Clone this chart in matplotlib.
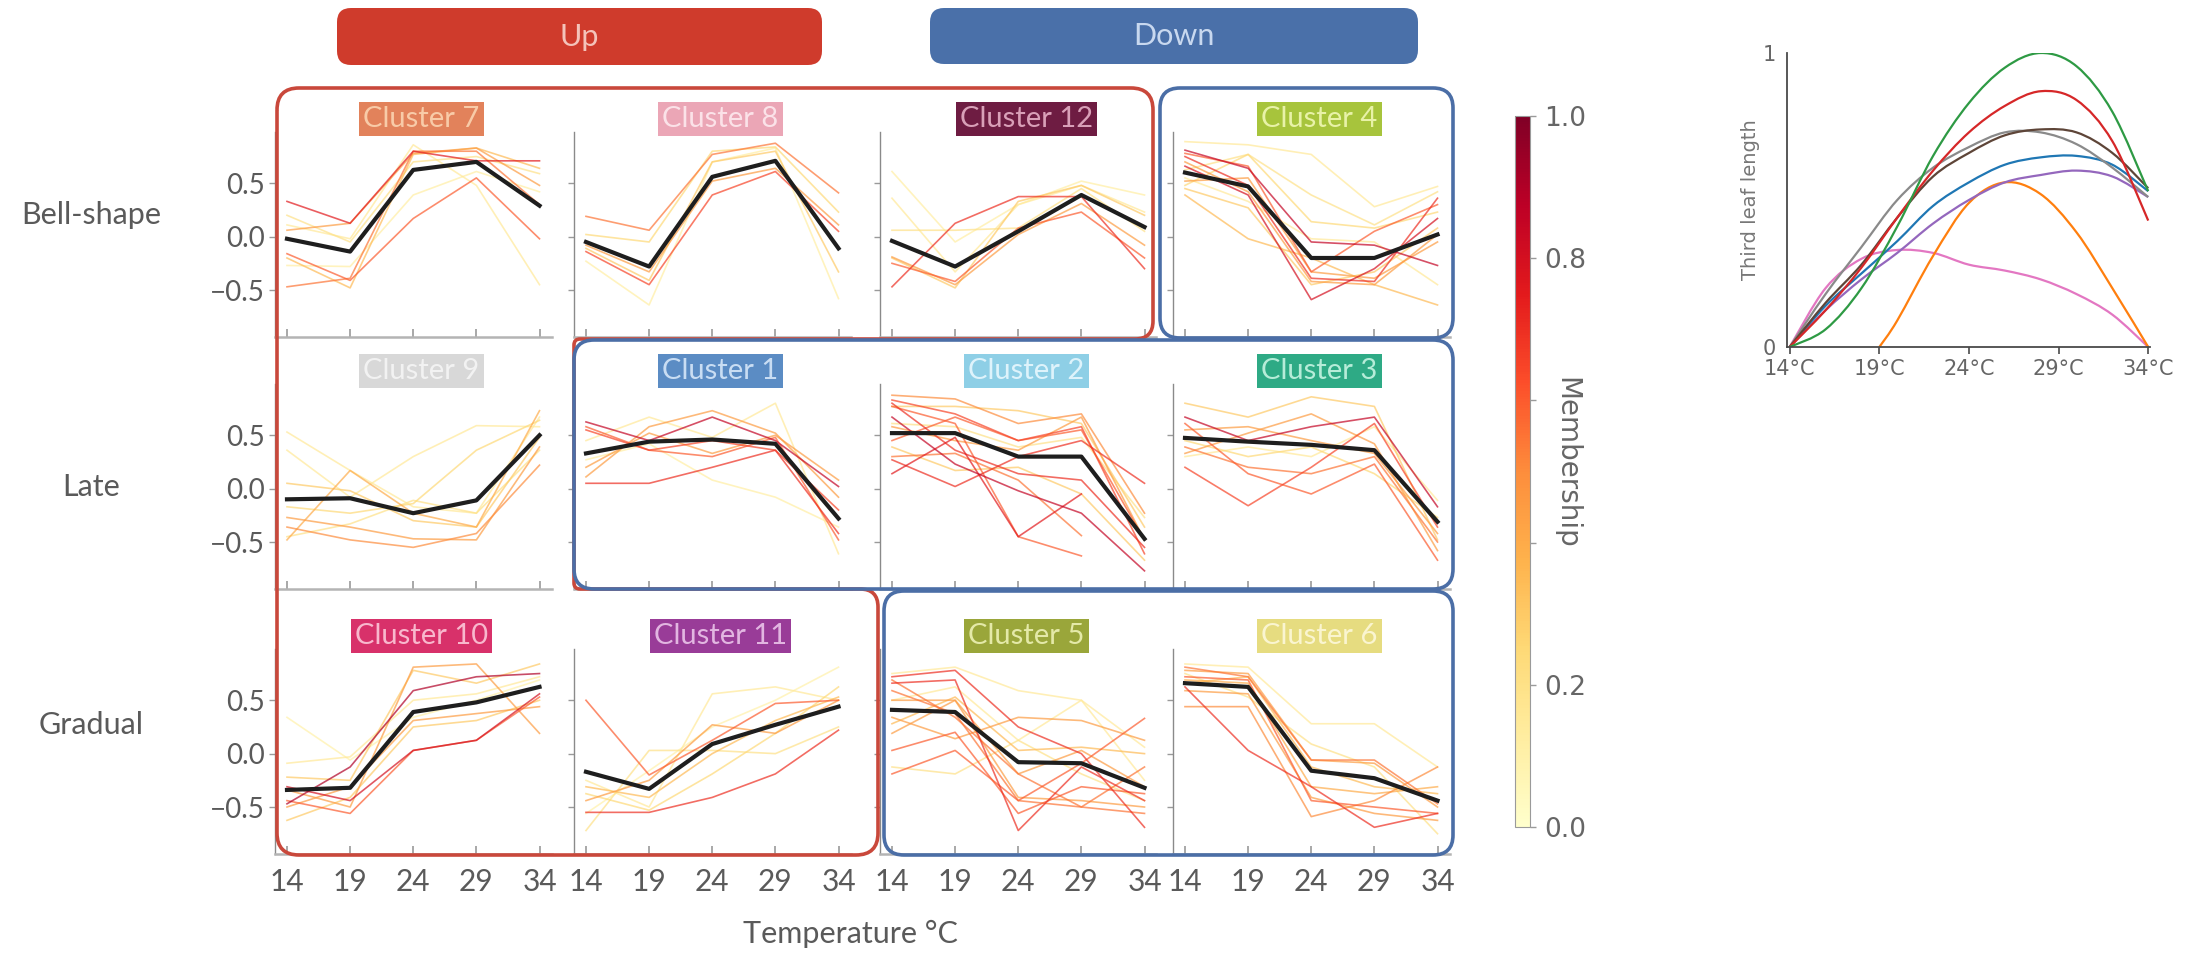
import numpy as np
import matplotlib
matplotlib.use("Agg")
import matplotlib.pyplot as plt
from matplotlib.path import Path
from matplotlib.patches import PathPatch, FancyBboxPatch
from matplotlib.colors import Normalize
from matplotlib.colorbar import ColorbarBase

plt.rcParams['font.family'] = ['Lato', 'DejaVu Sans']

# ---------------------------------------------------------------- data
temps = [14, 19, 24, 29, 34]
nan = float('nan')

c7_mean = [-0.02, -0.14, 0.625, 0.70, 0.29]
c7_members = [
    [0.33, 0.125, 0.80, 0.71, 0.71], [0.06, 0.125, 0.78, 0.83, 0.48],
    [-0.16, -0.41, 0.17, 0.55, -0.02], [-0.47, -0.39, 0.80, 0.80, 0.30],
    [0.11, -0.02, 0.86, 0.48, -0.45], [-0.27, -0.28, 0.39, 0.61, 0.42],
    [-0.20, -0.48, 0.77, 0.83, 0.64], [0.20, -0.05, 0.70, 0.75, 0.59]]
c7_membership = [0.75, 0.45, 0.6, 0.55, 0.15, 0.12, 0.35, 0.2]

c8_mean = [-0.05, -0.28, 0.56, 0.71, -0.11]
c8_members = [
    [0.19, 0.06, 0.77, 0.875, 0.41], [-0.14, -0.45, 0.39, 0.61, 0.05],
    [-0.11, -0.41, 0.70, 0.80, -0.33], [-0.23, -0.64, 0.70, 0.83, -0.58],
    [0.02, -0.05, 0.80, 0.84, 0.23], [-0.08, -0.33, 0.52, 0.64, 0.11]]
c8_membership = [0.55, 0.65, 0.3, 0.12, 0.25, 0.45]

c12_mean = [-0.04, -0.28, 0.05, 0.39, 0.09]
c12_members = [
    [-0.47, 0.125, 0.375, 0.375, -0.30], [0.61, -0.05, 0.30, 0.52, 0.39],
    [0.36, -0.33, 0.30, 0.48, 0.23], [-0.19, -0.45, 0.02, 0.31, -0.08],
    [-0.25, -0.42, 0.08, 0.23, -0.20], [0.06, 0.06, 0.08, 0.45, 0.05],
    [-0.20, -0.48, 0.33, 0.48, 0.20]]
c12_membership = [0.7, 0.12, 0.15, 0.45, 0.6, 0.2, 0.3]

c4_mean = [0.60, 0.47, -0.20, -0.20, 0.02]
c4_members = [
    [0.89, 0.86, 0.77, 0.28, 0.47], [0.81, 0.64, -0.05, -0.08, -0.27],
    [0.75, 0.48, -0.39, -0.42, 0.36], [0.70, 0.42, -0.42, -0.45, 0.02],
    [0.66, 0.39, -0.59, -0.30, 0.17], [0.55, 0.33, -0.02, -0.05, -0.45],
    [0.45, 0.27, -0.45, -0.33, 0.08], [0.48, 0.77, 0.14, 0.08, 0.23],
    [0.39, -0.02, -0.20, -0.45, -0.64], [0.78, 0.66, -0.33, 0.05, 0.30],
    [0.52, 0.55, -0.33, -0.39, -0.05], [0.625, 0.77, 0.39, 0.11, 0.42]]
c4_membership = [0.15, 0.85, 0.7, 0.45, 0.8, 0.15, 0.3, 0.25, 0.35, 0.6, 0.45, 0.2]

c9_mean = [-0.10, -0.09, -0.23, -0.11, 0.50]
c9_members = [
    [0.53, 0.17, -0.17, -0.23, 0.67], [-0.48, 0.17, -0.23, -0.36, 0.73],
    [-0.27, -0.36, -0.47, -0.48, 0.39], [0.36, -0.08, 0.30, 0.59, 0.58],
    [-0.36, -0.48, -0.55, -0.42, 0.22], [-0.17, -0.23, -0.14, 0.36, 0.64],
    [0.05, -0.02, -0.30, -0.36, 0.48], [-0.45, -0.33, -0.11, -0.23, 0.36]]
c9_membership = [0.15, 0.4, 0.45, 0.15, 0.5, 0.25, 0.3, 0.2]

c1_mean = [0.33, 0.44, 0.46, 0.42, -0.28]
c1_members = [
    [0.625, 0.45, 0.67, 0.45, 0.02], [0.05, 0.05, 0.20, 0.36, -0.42],
    [0.58, 0.36, 0.30, 0.48, -0.48], [0.11, 0.58, 0.73, 0.52, -0.08],
    [0.45, 0.67, 0.48, 0.80, -0.61], [0.27, 0.42, 0.08, -0.08, -0.36],
    [0.55, 0.36, 0.45, 0.36, -0.20], [0.20, 0.52, 0.33, 0.50, 0.08]]
c1_membership = [0.85, 0.7, 0.6, 0.45, 0.15, 0.12, 0.65, 0.45]

c2_mean = [0.52, 0.52, 0.30, 0.30, -0.47]
c2_members = [
    [0.875, 0.84, 0.61, 0.70, -0.23], [0.83, 0.70, 0.45, 0.58, -0.61],
    [0.14, 0.48, -0.45, -0.05, nan], [0.30, 0.33, 0.08, -0.44, nan],
    [0.77, 0.61, -0.45, -0.63, nan], [0.67, 0.23, -0.02, -0.23, -0.77],
    [0.27, 0.02, 0.30, 0.45, 0.05], [0.58, 0.45, 0.36, 0.67, -0.48],
    [0.77, 0.77, 0.73, 0.61, -0.36], [0.39, 0.17, 0.20, -0.05, -0.67],
    [0.61, 0.58, 0.39, 0.48, -0.27], [0.45, 0.67, 0.45, 0.55, -0.48],
    [0.80, 0.36, 0.14, 0.08, -0.55]]
c2_membership = [0.5, 0.65, 0.75, 0.55, 0.6, 0.85, 0.7, 0.45, 0.3, 0.3, 0.2, 0.6, 0.7]

c3_mean = [0.475, 0.44, 0.41, 0.36, -0.31]
c3_members = [
    [0.67, 0.45, 0.58, 0.67, -0.17], [0.20, -0.16, 0.20, 0.61, -0.36],
    [0.80, 0.67, 0.86, 0.77, -0.48], [0.33, 0.52, 0.70, 0.42, -0.58],
    [0.61, 0.14, -0.05, 0.23, -0.67], [0.45, 0.30, 0.39, 0.14, -0.27],
    [0.30, 0.39, 0.30, 0.58, -0.11], [0.55, 0.58, 0.45, 0.33, -0.42],
    [0.39, 0.20, 0.14, 0.30, -0.50]]
c3_membership = [0.85, 0.65, 0.3, 0.45, 0.6, 0.25, 0.15, 0.45, 0.55]

c10_mean = [-0.34, -0.32, 0.39, 0.48, 0.625]
c10_members = [
    [-0.47, -0.125, 0.59, 0.72, 0.75], [-0.34, -0.50, 0.81, 0.84, 0.19],
    [-0.22, -0.25, 0.78, 0.66, 0.84], [-0.44, -0.56, 0.03, 0.125, 0.53],
    [-0.625, -0.41, 0.25, 0.31, 0.50], [-0.09, -0.03, 0.50, 0.56, 0.72],
    [0.34, -0.06, 0.34, 0.50, 0.69], [-0.31, -0.44, 0.03, 0.125, 0.56],
    [-0.50, -0.31, 0.31, 0.375, 0.44]]
c10_membership = [0.9, 0.45, 0.3, 0.6, 0.3, 0.15, 0.1, 0.8, 0.45]

c11_mean = [-0.17, -0.33, 0.09, 0.27, 0.44]
c11_members = [
    [0.50, -0.20, 0.125, 0.47, 0.50], [-0.55, -0.55, -0.41, -0.19, 0.22],
    [-0.44, -0.25, 0.27, 0.19, 0.50], [-0.72, 0.03, 0.03, 0.00, 0.25],
    [-0.25, -0.50, 0.56, 0.625, 0.50], [-0.31, -0.41, 0.00, 0.31, 0.53],
    [-0.375, -0.53, -0.19, 0.19, 0.625], [-0.56, -0.16, 0.25, 0.50, 0.81]]
c11_membership = [0.6, 0.7, 0.45, 0.2, 0.15, 0.35, 0.25, 0.1]

c5_mean = [0.41, 0.39, -0.08, -0.09, -0.32]
c5_members = [
    [0.75, 0.81, 0.59, 0.50, 0.06], [0.72, 0.78, 0.25, 0.00, -0.69],
    [-0.19, 0.03, -0.44, -0.09, 0.33], [0.66, 0.69, -0.72, -0.125, -0.44],
    [0.19, 0.50, -0.41, -0.44, -0.50], [0.50, 0.625, 0.125, 0.50, -0.25],
    [0.34, 0.14, 0.34, 0.31, 0.125], [0.03, 0.20, -0.56, -0.31, -0.375],
    [0.59, 0.375, -0.44, -0.50, -0.56], [0.28, 0.53, 0.03, 0.06, 0.00],
    [-0.125, -0.19, 0.125, -0.19, -0.44], [0.50, 0.50, -0.19, 0.03, -0.31],
    [0.69, 0.34, -0.19, -0.50, -0.125]]
c5_membership = [0.15, 0.7, 0.6, 0.7, 0.45, 0.15, 0.45, 0.6, 0.55, 0.35, 0.2, 0.45, 0.55]

c6_mean = [0.66, 0.625, -0.16, -0.23, -0.44]
c6_members = [
    [0.84, 0.81, 0.28, 0.28, -0.125], [0.78, 0.75, -0.06, -0.09, -0.50],
    [0.72, 0.69, -0.44, -0.50, -0.56], [0.625, 0.03, -0.31, -0.69, -0.56],
    [0.44, 0.44, -0.59, -0.44, -0.125], [0.59, 0.56, -0.41, -0.56, -0.625],
    [0.81, 0.72, -0.06, -0.06, -0.47], [0.69, 0.66, -0.31, -0.375, -0.31],
    [0.75, 0.53, 0.09, -0.125, -0.75], [0.66, 0.72, -0.125, -0.31, -0.375]]
c6_membership = [0.15, 0.45, 0.6, 0.7, 0.5, 0.45, 0.55, 0.4, 0.2, 0.35]

# panel grid (rows: Bell-shape, Late, Gradual)
row_names = ['Bell-shape', 'Late', 'Gradual']
grid = [[7, 8, 12, 4], [9, 1, 2, 3], [10, 11, 5, 6]]
cluster_box = {7: '#e2825b', 8: '#eba6b6', 12: '#6e1c42', 4: '#a7c43c',
               9: '#d8d8d8', 1: '#5b8cc4', 2: '#8ecfe6', 3: '#2eaa85',
               10: '#d8316a', 11: '#993c98', 5: '#9aa63a', 6: '#e6dc80'}
cluster_text = {7: '#f8cba8', 8: '#fbe2e8', 12: '#d9a0b8', 4: '#e8f2a8',
                9: '#f2f2f2', 1: '#c9ddf3', 2: '#def3fb', 3: '#b6ecd8',
                10: '#f8b8cd', 11: '#e2b6e1', 5: '#e4e9a8', 6: '#faf5d0'}
clusters = {
    1: (c1_mean, c1_members, c1_membership), 2: (c2_mean, c2_members, c2_membership),
    3: (c3_mean, c3_members, c3_membership), 4: (c4_mean, c4_members, c4_membership),
    5: (c5_mean, c5_members, c5_membership), 6: (c6_mean, c6_members, c6_membership),
    7: (c7_mean, c7_members, c7_membership), 8: (c8_mean, c8_members, c8_membership),
    9: (c9_mean, c9_members, c9_membership), 10: (c10_mean, c10_members, c10_membership),
    11: (c11_mean, c11_members, c11_membership), 12: (c12_mean, c12_members, c12_membership)}

# growth response curves (third leaf length, relative)
curve_t = [14, 16, 18, 20, 22, 24, 26, 28, 30, 32, 34]
curve_green = [0, 0.06, 0.20, 0.41, 0.65, 0.83, 0.95, 1.0, 0.955, 0.80, 0.53]
curve_red = [0, 0.125, 0.27, 0.44, 0.60, 0.73, 0.82, 0.87, 0.84, 0.70, 0.43]
curve_gray = [0, 0.18, 0.34, 0.50, 0.61, 0.68, 0.73, 0.73, 0.69, 0.61, 0.51]
curve_brown = [0, 0.15, 0.28, 0.44, 0.58, 0.66, 0.72, 0.74, 0.73, 0.66, 0.54]
curve_blue = [0, 0.14, 0.25, 0.36, 0.48, 0.56, 0.62, 0.645, 0.65, 0.62, 0.53]
curve_purple = [0, 0.125, 0.23, 0.32, 0.42, 0.50, 0.56, 0.585, 0.60, 0.58, 0.51]
curve_pink = [0, 0.20, 0.30, 0.33, 0.32, 0.28, 0.26, 0.23, 0.18, 0.11, 0]
orange_t = [19, 20, 22, 24, 26, 28, 30, 32, 34]
curve_orange = [0, 0.09, 0.31, 0.49, 0.56, 0.52, 0.39, 0.20, 0]

# ---------------------------------------------------------------- figure
W, H = 2193, 957
fig = plt.figure(figsize=(W / 100, H / 100), dpi=100)
fig.patch.set_facecolor('white')


def px_axes(x0, y0, w, h, **kw):
    return fig.add_axes([x0 / W, 1 - (y0 + h) / H, w / W, h / H], **kw)


cmap = plt.get_cmap('YlOrRd')
norm = Normalize(0, 1)
GRAY = '#5a5a5a'

col_left = [275, 574, 880, 1173]
row_top = [132, 384, 649]
panel_w, panel_h = 276.5, 205

for r, row in enumerate(grid):
    for c, cid in enumerate(row):
        ax = px_axes(col_left[c], row_top[r], panel_w, panel_h)
        ax.set_xlim(13.05, 34.95)
        ax.set_ylim(-0.94, 0.98)
        mean, members, memb = clusters[cid]
        for i in np.argsort(memb):
            ax.plot(temps, members[i], color=cmap(norm(memb[i])), lw=1.2,
                    alpha=0.7, solid_joinstyle='round')
        ax.plot(temps, mean, color='#1e1e1e', lw=3.0, solid_joinstyle='round')
        for s in ('top', 'right'):
            ax.spines[s].set_visible(False)
        ax.spines['left'].set_color('#8a8a8a')
        ax.spines['left'].set_linewidth(1.0)
        ax.spines['bottom'].set_color('#b4b4b4')
        ax.spines['bottom'].set_linewidth(1.8)
        ax.set_xticks(temps)
        ax.set_xticklabels([str(t) for t in temps])
        ax.set_yticks([-0.5, 0.0, 0.5])
        ax.set_yticklabels(['\u22120.5', '0.0', '0.5'])
        ax.tick_params(axis='x', direction='in', length=6, width=1.2, color='#9a9a9a',
                       labelbottom=(r == 2), labelsize=21.5, labelcolor=GRAY, pad=10)
        ax.tick_params(axis='y', direction='out', length=4, width=1, color='#9a9a9a',
                       labelleft=(c == 0), labelsize=20, labelcolor=GRAY, pad=3)
        ax.text(0.53, 1.063, f'Cluster {cid}', transform=ax.transAxes,
                ha='center', va='center', fontsize=21, color=cluster_text[cid],
                bbox=dict(boxstyle='square,pad=0.14', fc=cluster_box[cid], ec='none'),
                zorder=5, clip_on=False)

# ---------------------------------------------------------------- colorbar
cax = px_axes(1515, 116, 15, 711)
cb = ColorbarBase(cax, cmap=cmap, norm=norm, orientation='vertical')
cb.set_ticks([0, 0.2, 0.4, 0.6, 0.8, 1.0])
cb.set_ticklabels(['0.0', '0.2', '', '', '0.8', '1.0'])
cb.outline.set_edgecolor('#9a9a9a')
cb.outline.set_linewidth(0.8)
cax.tick_params(length=4, width=1, color='#9a9a9a', labelsize=19, labelcolor='#666666', pad=6)
for t in cax.get_yticklabels():
    t.set_fontfamily('DejaVu Sans')
fig.text(1566 / W, 1 - 463 / H, 'Membership', rotation=270, ha='center', va='center',
         fontsize=20, color='#666666', family='DejaVu Sans')

# ---------------------------------------------------------------- response curves
iax = px_axes(1787, 53, 363, 294)
iax.set_xlim(13.85, 34.1)
iax.set_ylim(0, 1)


def smooth_path(xs, ys):
    pts = np.column_stack([xs, ys]).astype(float)
    verts, codes = [pts[0]], [Path.MOVETO]
    n = len(pts)
    for i in range(n - 1):
        p0 = pts[i - 1] if i > 0 else pts[i]
        p1, p2 = pts[i], pts[i + 1]
        p3 = pts[i + 2] if i + 2 < n else pts[i + 1]
        verts += [p1 + (p2 - p0) / 6, p2 - (p3 - p1) / 6, p2]
        codes += [Path.CURVE4] * 3
    return Path(verts, codes)


for xs, ys, col in [(curve_t, curve_pink, '#e377c2'), (orange_t, curve_orange, '#ff7f0e'),
                    (curve_t, curve_purple, '#9467bd'), (curve_t, curve_blue, '#1f77b4'),
                    (curve_t, curve_gray, '#8a8a8a'), (curve_t, curve_brown, '#5e4538'),
                    (curve_t, curve_red, '#d62728'), (curve_t, curve_green, '#2e9a44')]:
    iax.add_patch(PathPatch(smooth_path(xs, ys), fill=False, edgecolor=col, lw=1.6,
                            transform=iax.transData))
for s in ('top', 'right'):
    iax.spines[s].set_visible(False)
for s in ('left', 'bottom'):
    iax.spines[s].set_color('#4a4a4a')
    iax.spines[s].set_linewidth(1.3)
iax.set_xticks(temps)
iax.set_xticklabels([f'{t}\u00b0C' for t in temps])
iax.set_yticks([0, 1])
iax.set_yticklabels(['0', '1'])
iax.tick_params(axis='x', direction='out', length=5, width=1.2, color='#4a4a4a',
                labelsize=15, labelcolor='#666666', pad=4)
iax.tick_params(axis='y', length=0, labelsize=15, labelcolor='#666666', pad=8)
for t in iax.get_xticklabels() + iax.get_yticklabels():
    t.set_fontfamily('DejaVu Sans')
iax.set_ylabel('Third leaf length', fontsize=14, color='#777777', family='DejaVu Sans',
               labelpad=2)

# ---------------------------------------------------------------- overlay: banners, frames, labels
ov = fig.add_axes([0, 0, 1, 1], zorder=10)
ov.set_xlim(0, W)
ov.set_ylim(H, 0)
ov.set_axis_off()

ov.add_patch(FancyBboxPatch((337, 8), 485, 57, boxstyle='round,pad=0,rounding_size=14',
                            fc='#cf3b2c', ec='none'))
ov.text(579, 37, 'Up', ha='center', va='center', fontsize=22, color='#f4c3ba')
ov.add_patch(FancyBboxPatch((930, 8), 488, 56, boxstyle='round,pad=0,rounding_size=14',
                            fc='#4a70a9', ec='none'))
ov.text(1174, 36, 'Down', ha='center', va='center', fontsize=22, color='#c8d8ef')


def rounded_polygon(pts, radii):
    verts, codes = [], []
    n = len(pts)
    for i in range(n):
        p = np.array(pts[i], float)
        a0 = np.array(pts[i - 1], float) - p
        b0 = np.array(pts[(i + 1) % n], float) - p
        la, lb = np.hypot(*a0), np.hypot(*b0)
        a = p + a0 / la * min(radii[i], la / 2)
        b = p + b0 / lb * min(radii[i], lb / 2)
        verts += [a, p, b]
        codes += [Path.MOVETO if i == 0 else Path.LINETO, Path.CURVE3, Path.CURVE3]
    verts.append(verts[0])
    codes.append(Path.LINETO)
    return Path(verts, codes)


RED, BLUE = '#c9483b', '#4b6ea6'
red_pts = [(277, 88), (1153, 88), (1153, 339), (574, 339), (574, 589),
           (878, 589), (878, 855), (277, 855)]
ov.add_patch(PathPatch(rounded_polygon(red_pts, [22, 22, 18, 6, 6, 18, 22, 22]),
                       fill=False, edgecolor=RED, lw=2.6, joinstyle='round'))
for (x0, y0, x1, y1) in [(1160, 88, 1453, 338), (574, 340, 1453, 589), (884, 591, 1453, 855)]:
    ov.add_patch(FancyBboxPatch((x0, y0), x1 - x0, y1 - y0,
                                boxstyle='round,pad=0,rounding_size=20',
                                fill=False, edgecolor=BLUE, lw=2.6))

for name, yc in zip(row_names, [215, 487, 725]):
    ov.text(91, yc, name, ha='center', va='center', fontsize=22, color=GRAY)
ov.text(850, 934, 'Temperature \u00b0C', ha='center', va='center', fontsize=22, color=GRAY)

fig.savefig('out.png', dpi=100, facecolor='white')
